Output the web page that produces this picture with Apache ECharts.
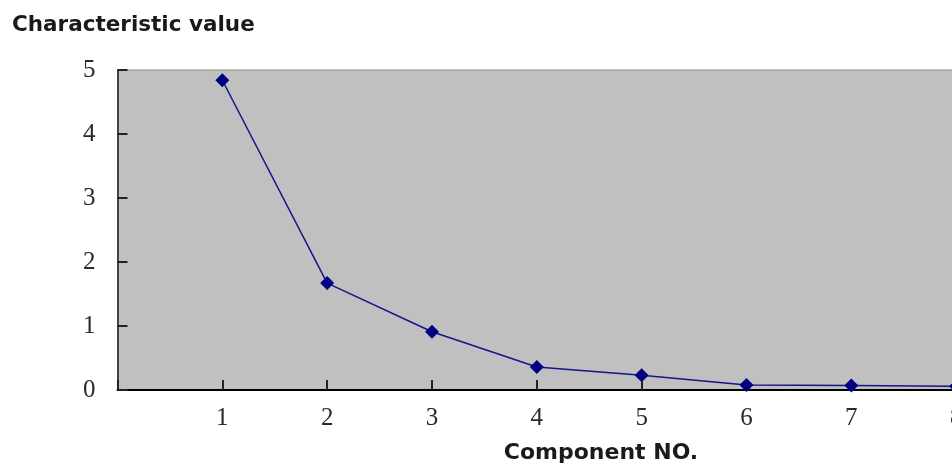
<!DOCTYPE html>
<html><head><meta charset="utf-8">
<script src="https://cdn.jsdelivr.net/npm/echarts@6/dist/echarts.min.js"></script>
<style>html,body{margin:0;padding:0;background:#fff}#c{width:952px;height:463px}</style>
</head><body><div id="c"></div>
<script>
const components = [1, 2, 3, 4, 5, 6, 7, 8];
const values = [4.84, 1.67, 0.91, 0.36, 0.23, 0.08, 0.07, 0.06];
const yTicks = [0, 1, 2, 3, 4, 5];
const yTitle = 'Characteristic value';
const xTitle = 'Component NO.';

const chart = echarts.init(document.getElementById('c'), null, {renderer: 'canvas'});
const unit = 104.83;
const left = 117.5;
const xMax = 9;
const tickFont = {fontFamily: 'Liberation Serif', fontSize: 25, color: '#2a2a2a'};
chart.setOption({
  animation: false,
  backgroundColor: '#fff',
  title: [
    {text: yTitle, left: 7, top: 9, textStyle: {fontFamily: 'DejaVu Sans', fontWeight: 'bold', fontSize: 21.5, color: '#1a1a1a'}},
    {text: xTitle, left: 596, top: 437, textAlign: 'center', textStyle: {fontFamily: 'DejaVu Sans', fontWeight: 'bold', fontSize: 22, color: '#1a1a1a'}}
  ],
  grid: {
    left: left, top: 70, width: unit * xMax, height: 320,
    outerBoundsMode: 'none', containLabel: false,
    show: true, backgroundColor: '#c0c0c0', borderColor: '#888', borderWidth: 1
  },
  xAxis: {
    type: 'value', min: 0, max: xMax, interval: 1,
    axisLine: {show: true, lineStyle: {color: '#000', width: 2}},
    axisTick: {show: true, inside: true, length: 10, lineStyle: {color: '#222', width: 2}},
    splitLine: {show: false},
    axisLabel: {
      margin: 16, ...tickFont,
      formatter: v => (components.indexOf(v) >= 0 ? String(v) : '')
    }
  },
  yAxis: {
    type: 'value', min: yTicks[0], max: yTicks[yTicks.length - 1], interval: 1,
    axisLine: {show: true, lineStyle: {color: '#444', width: 2}},
    axisTick: {show: true, inside: true, length: 10, lineStyle: {color: '#222', width: 2}},
    splitLine: {show: false},
    axisLabel: {margin: 22, ...tickFont}
  },
  series: [{
    type: 'line',
    data: components.map((c, i) => [c, values[i]]),
    symbol: 'diamond', symbolSize: 14,
    lineStyle: {color: '#14148c', width: 1.5},
    itemStyle: {color: '#000080'},
    z: 3
  }]
});
</script></body></html>
